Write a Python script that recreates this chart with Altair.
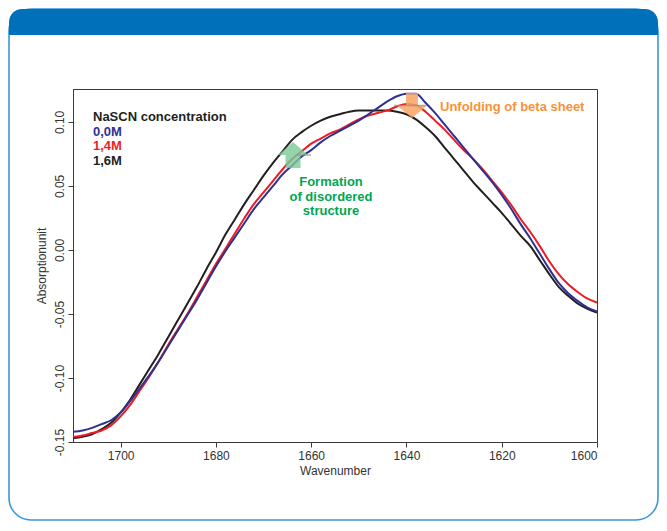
import altair as alt
import pandas as pd

# ---------------- data ----------------
wavenumber = [1710, 1708, 1706, 1704, 1702, 1700, 1698, 1696, 1694, 1692,
              1690, 1688, 1686, 1684, 1682, 1680, 1678, 1676, 1674, 1672,
              1670, 1668, 1666, 1664, 1662, 1660, 1658, 1656, 1654, 1652,
              1650, 1648, 1646, 1644, 1642, 1640, 1638, 1636, 1634, 1632,
              1630, 1628, 1626, 1624, 1622, 1620, 1618, 1616, 1614, 1612,
              1610, 1608, 1606, 1604, 1602, 1600]

abs_00M = [-0.142, -0.141, -0.139, -0.136, -0.133, -0.127, -0.118, -0.108, -0.098, -0.087,
           -0.075, -0.063, -0.051, -0.039, -0.026, -0.013, -0.001, 0.010, 0.021, 0.032,
           0.041, 0.050, 0.059, 0.066, 0.073, 0.078, 0.084, 0.089, 0.093, 0.097,
           0.101, 0.106, 0.111, 0.116, 0.120, 0.122, 0.122, 0.115, 0.107, 0.098,
           0.089, 0.080, 0.071, 0.062, 0.053, 0.043, 0.032, 0.020, 0.009, -0.003,
           -0.015, -0.026, -0.034, -0.040, -0.045, -0.048]

abs_14M = [-0.146, -0.145, -0.143, -0.141, -0.137, -0.130, -0.121, -0.110, -0.099, -0.087,
           -0.074, -0.062, -0.050, -0.037, -0.024, -0.011, 0.001, 0.013, 0.025, 0.036,
           0.045, 0.054, 0.063, 0.071, 0.077, 0.083, 0.087, 0.091, 0.094, 0.098,
           0.102, 0.105, 0.107, 0.109, 0.112, 0.114, 0.113, 0.108, 0.101, 0.094,
           0.086, 0.078, 0.071, 0.063, 0.054, 0.045, 0.035, 0.024, 0.014, 0.003,
           -0.009, -0.019, -0.027, -0.033, -0.038, -0.041]

abs_16M = [-0.147, -0.146, -0.144, -0.140, -0.135, -0.127, -0.117, -0.105, -0.093, -0.081,
           -0.068, -0.055, -0.042, -0.029, -0.015, -0.002, 0.012, 0.024, 0.036, 0.047,
           0.058, 0.068, 0.077, 0.086, 0.092, 0.097, 0.101, 0.104, 0.106, 0.108,
           0.109, 0.109, 0.109, 0.109, 0.108, 0.106, 0.102, 0.096, 0.089, 0.080,
           0.071, 0.062, 0.053, 0.045, 0.037, 0.029, 0.020, 0.011, 0.003, -0.008,
           -0.019, -0.029, -0.036, -0.042, -0.046, -0.049]

series_names = ["1,6M", "1,4M", "0,0M"]
series_values = [abs_16M, abs_14M, abs_00M]
series_colors = ["#231F20", "#ED1C24", "#2E3192"]

x_ticks = [1700, 1680, 1660, 1640, 1620, 1600]
y_ticks = [-0.15, -0.10, -0.05, 0.00, 0.05, 0.10]

legend_title = "NaSCN concentration"
legend_labels = ["0,0M", "1,4M", "1,6M"]
legend_colors = ["#2E3192", "#ED1C24", "#231F20"]
green_lines = ["Formation", "of disordered", "structure"]
orange_text = "Unfolding of beta sheet"

# ---------------- build table ----------------
rows = []
for name, vals in zip(series_names, series_values):
    for w, v in zip(wavenumber, vals):
        rows.append({"wn": w, "val": v, "series": name})
df = pd.DataFrame(rows)
one = pd.DataFrame({"a": [0]})

FONT = "Liberation Sans"
W, H = 524, 353

frame = alt.Chart(one).mark_rect(
    cornerRadius=22, fill="white", fillOpacity=0, stroke="#3B97D8", strokeWidth=1.6
).encode(x=alt.value(-64), x2=alt.value(585), y=alt.value(-80), y2=alt.value(431))

header = alt.Chart(one).mark_rect(
    cornerRadiusTopLeft=22, cornerRadiusTopRight=22, color="#0070BA"
).encode(x=alt.value(-64), x2=alt.value(585), y=alt.value(-80), y2=alt.value(-54))

lines = alt.Chart(df).mark_line(strokeWidth=2, interpolate="monotone").encode(
    x=alt.X("wn:Q",
            scale=alt.Scale(domain=[1710, 1600], nice=False, zero=False),
            axis=alt.Axis(values=x_ticks, format="d", title="Wavenumber",
                          labelPadding=3, titlePadding=4)),
    y=alt.Y("val:Q",
            scale=alt.Scale(domain=[-0.15, 0.1257], nice=False, zero=False),
            axis=alt.Axis(values=y_ticks, title="Absorptionunit",
                          labelAngle=270, labelAlign="center", labelBaseline="bottom",
                          labelPadding=2, titlePadding=5,
                          labelExpr="replace(format(datum.value, '.2f'), '\u2212', '-')")),
    color=alt.Color("series:N", scale=alt.Scale(domain=series_names, range=series_colors),
                    legend=None),
    order=alt.Order("wn:Q"),
)

GREEN_PATH = "M0,-0.87L1,0L0.5,0L0.5,0.87L-0.5,0.87L-0.5,0L-1,0Z"
ORANGE_PATH = "M-0.4,-0.83L0.4,-0.83L0.4,0L1,0L0,0.83L-1,0L-0.4,0Z"

green_arrow = alt.Chart(one).mark_point(
    shape=GREEN_PATH, size=900, filled=True, color="#7CC99A", opacity=0.8, strokeWidth=0
).encode(x=alt.value(220), y=alt.value(66))
green_edge = alt.Chart(one).mark_point(
    shape="M0.3,0L1.2,0", size=900, filled=False, color="#8A8F99", strokeWidth=1.5
).encode(x=alt.value(220), y=alt.value(66))

orange_arrow = alt.Chart(one).mark_point(
    shape=ORANGE_PATH, size=900, filled=True, color="#F9A463", opacity=0.85, strokeWidth=0
).encode(x=alt.value(339), y=alt.value(16.5))
orange_edge = alt.Chart(one).mark_point(
    shape="M-1.2,0L1,0", size=900, filled=False, color="#8A8F99", strokeWidth=1.5
).encode(x=alt.value(339), y=alt.value(16.5))


def txt(text, x, y, color, align="left"):
    return alt.Chart(one).mark_text(
        text=text, align=align, baseline="alphabetic", font=FONT, fontSize=13,
        fontWeight="bold", color=color
    ).encode(x=alt.value(x), y=alt.value(y))


texts = [txt(legend_title, 20, 32, "#231F20")]
for i, (lab, col) in enumerate(zip(legend_labels, legend_colors)):
    texts.append(txt(lab, 20, 46.5 + 14.5 * i, col))
for i, lab in enumerate(green_lines):
    texts.append(txt(lab, 258, 97 + 14.5 * i, "#00A651", align="center"))
texts.append(txt(orange_text, 367, 22, "#F7923A"))

chart = alt.layer(
    frame, header, lines, green_arrow, green_edge, orange_arrow, orange_edge, *texts
).properties(
    width=W, height=H,
    padding={"left": 65, "top": 81, "right": 62, "bottom": 81},
    autosize=alt.AutoSizeParams(type="none"),
    background="white",
).configure_view(
    stroke="#3A3A3A", strokeWidth=1
).configure_axis(
    grid=False, domainColor="#3A3A3A", tickColor="#3A3A3A", tickSize=5,
    labelFont=FONT, titleFont=FONT, labelFontSize=12, titleFontSize=12,
    labelColor="#333333", titleColor="#333333", titleFontWeight="normal",
)

chart.save("out.html", embed_options={"renderer": "svg", "actions": False})
